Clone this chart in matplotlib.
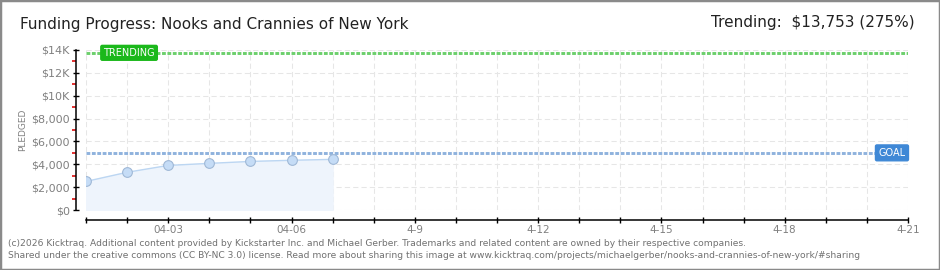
import matplotlib
matplotlib.use("Agg")
import matplotlib.pyplot as plt
from matplotlib.patches import Rectangle

days = [0, 1, 2, 3, 4, 5, 6]
pledged = [2500, 3300, 3900, 4080, 4250, 4350, 4430]
goal = 5000
trending = 13753
xtick_pos = [2, 5, 8, 11, 14, 17, 20]
xtick_labels = ["04-03", "04-06", "4-9", "4-12", "4-15", "4-18", "4-21"]
ytick_vals = [0, 2000, 4000, 6000, 8000, 10000, 12000, 14000]
ytick_labels = ["$0", "$2,000", "$4,000", "$6,000", "$8,000", "$10K", "$12K", "$14K"]

W, H = 940, 270
fig = plt.figure(figsize=(W / 100, H / 100), dpi=100)
fig.patch.set_facecolor("white")
fig.patches.append(Rectangle((0, 0), 1, 1, transform=fig.transFigure, fill=False,
                             edgecolor="#8a8a8a", linewidth=2.5))

ax = fig.add_axes([86 / W, (H - 210) / H, (908 - 86) / W, 160 / H])
ax.set_xlim(0, 20)
ax.set_ylim(0, 14000)

# grid
for x in range(0, 21):
    ax.axvline(x, color="#e6e6e6", lw=0.75, ls=(0, (5, 3)), zorder=0)
for y in ytick_vals:
    ax.axhline(y, color="#e6e6e6", lw=0.75, ls=(0, (5, 3)), zorder=0)

# data
ax.fill_between(days, pledged, 0, color="#eef4fc", zorder=1)
ax.plot(days, pledged, color="#bcd6f2", lw=1.0, zorder=2)
ax.plot(days, pledged, ls="none", marker="o", ms=7, mfc="#c5dcf6", mec="#9fb8d6",
        mew=0.8, zorder=3)

# goal / trending lines
ax.axhline(goal, color="#8fb2dd", lw=2.1, ls=(0, (1.3, 0.55)), zorder=2)
ax.axhline(trending, color="#6ccf6c", lw=2.1, ls=(0, (1.3, 0.55)), zorder=2)

ax.text(0.42, trending, "TRENDING", fontsize=7, color="white", va="center", ha="left",
        zorder=5, family="DejaVu Sans",
        bbox=dict(boxstyle="round,pad=0.25,rounding_size=0.15", fc="#1bb81b", ec="#1bb81b"))
ax.text(19.28, goal, "GOAL", fontsize=7, color="white", va="center", ha="left",
        zorder=5, family="DejaVu Sans",
        bbox=dict(boxstyle="round,pad=0.3,rounding_size=0.15", fc="#3f88d6", ec="#3f88d6"))

# spines
for s in ["top", "right"]:
    ax.spines[s].set_visible(False)
ax.spines["left"].set_position(("outward", 7.2))
ax.spines["bottom"].set_position(("outward", 7.2))
ax.spines["left"].set_linewidth(1.1)
ax.spines["bottom"].set_linewidth(1.1)

ax.set_yticks(ytick_vals)
ax.set_yticklabels(ytick_labels)
ax.set_yticks(range(1000, 14000, 2000), minor=True)
ax.tick_params(axis="y", which="major", direction="inout", length=5, width=1.0,
               labelsize=8, labelcolor="#808080", pad=2)
ax.tick_params(axis="y", which="minor", direction="out", length=3.2, width=1.3,
               color="#e02020")

ax.set_xticks(range(0, 21))
ax.set_xticklabels([xtick_labels[xtick_pos.index(i)] if i in xtick_pos else "" for i in range(21)])
ax.tick_params(axis="x", which="major", direction="inout", length=5, width=1.0,
               labelsize=7.5, labelcolor="#808080", pad=1)

ax.set_ylabel("PLEDGED", fontsize=6.5, color="#808080")
ax.yaxis.set_label_coords(-0.072, 0.5)

fig.text(20 / W, 1 - 25 / H, "Funding Progress: Nooks and Crannies of New York",
         fontsize=11, color="#222222", va="center", ha="left")
fig.text(915 / W, 1 - 22 / H, "Trending:  $13,753 (275%)", fontsize=11,
         color="#222222", va="center", ha="right")

fig.text(8 / W, 1 - 243 / H,
         "(c)2026 Kicktraq. Additional content provided by Kickstarter Inc. and Michael Gerber. "
         "Trademarks and related content are owned by their respective companies.",
         fontsize=6.6, color="#707070", va="center", ha="left")
fig.text(8 / W, 1 - 256 / H,
         "Shared under the creative commons (CC BY-NC 3.0) license. Read more about sharing this "
         "image at www.kicktraq.com/projects/michaelgerber/nooks-and-crannies-of-new-york/#sharing",
         fontsize=6.6, color="#707070", va="center", ha="left")

fig.savefig("out.png", dpi=100, facecolor="white")
